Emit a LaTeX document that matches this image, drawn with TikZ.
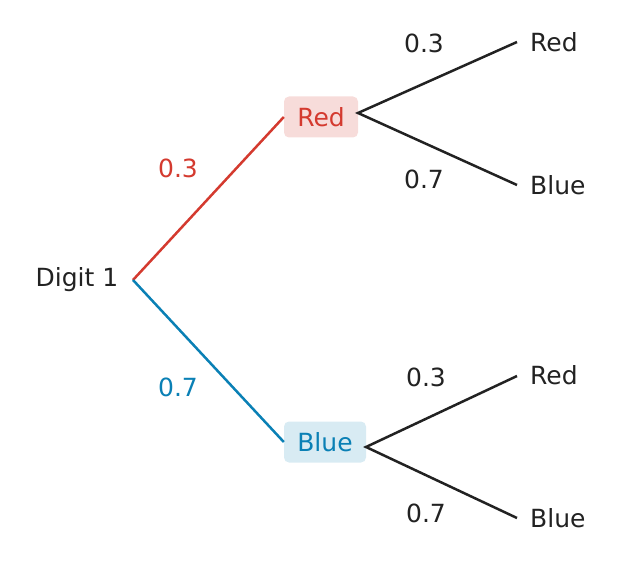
\documentclass[tikz,border=0pt]{standalone}
\usepackage{fontspec}
\setmainfont{DejaVu Sans}
\definecolor{tred}{HTML}{D43A2F}
\definecolor{tblue}{HTML}{0A80B5}
\definecolor{tink}{HTML}{222222}
\begin{document}
\begin{tikzpicture}[x=1pt,y=-1pt,
  lbl/.style={font=\fontsize{25}{30}\selectfont,text=tink,inner sep=0pt},
  box/.style={font=\fontsize{25}{30}\selectfont,rounded corners=5pt,minimum height=41pt,inner sep=0pt},
  edge/.style={line width=2.5pt,tink}]
\useasboundingbox (0,0) rectangle (621,561);
\node[lbl] (root) at (77,280) {Digit 1};
\coordinate (r) at (133,280);
\node[box,fill=tred!18,text=tred,minimum width=74pt] (red) at (321,117) {Red};
\node[box,fill=tblue!16,text=tblue,minimum width=82pt] (blue) at (325,442) {Blue};
\draw[line width=2.5pt,tred] (r) -- (red.west);
\draw[line width=2.5pt,tblue] (r) -- (blue.west);
\node[lbl,text=tred] (p1) at (178,168) {0.3};
\node[lbl,text=tblue] (p2) at (178,387) {0.7};
\coordinate (ra) at (358,113);
\coordinate (ba) at (366,447);
\node[lbl,anchor=west] (rr) at (530,42) {Red};
\node[lbl,anchor=west] (rb) at (530,185) {Blue};
\node[lbl,anchor=west] (br) at (530,375) {Red};
\node[lbl,anchor=west] (bb) at (530,518) {Blue};
\coordinate (rre) at (517,42);
\coordinate (rbe) at (517,185);
\coordinate (bre) at (517,376);
\coordinate (bbe) at (517,518);
\draw[edge] (rre) -- (ra) -- (rbe);
\draw[edge] (bre) -- (ba) -- (bbe);
\node[lbl] (q1) at (424,43) {0.3};
\node[lbl] (q2) at (424,179) {0.7};
\node[lbl] (q3) at (426,377) {0.3};
\node[lbl] (q4) at (426,513) {0.7};
\end{tikzpicture}
\end{document}
